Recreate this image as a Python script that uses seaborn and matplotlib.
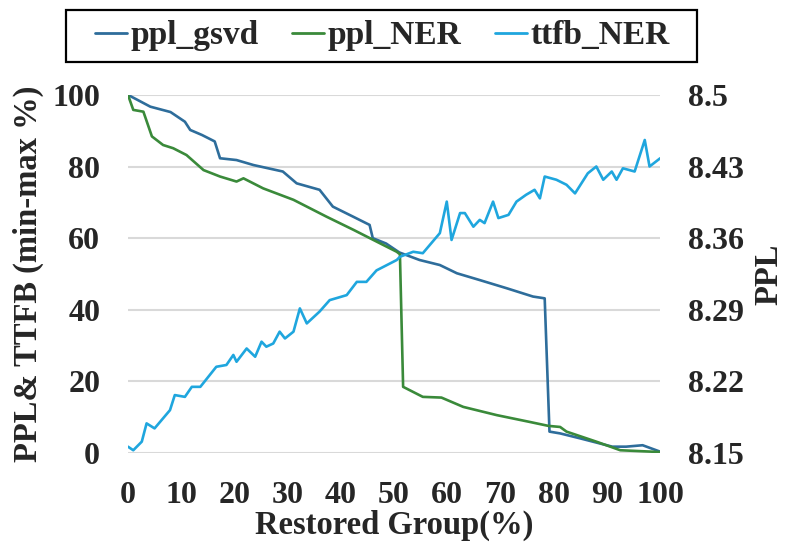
import matplotlib
matplotlib.use("Agg")
import matplotlib.pyplot as plt
import seaborn as sns
import pandas as pd
from matplotlib.lines import Line2D
from matplotlib.patches import Rectangle

# ---- data ----
gsvd_x = [0, 4.2, 8, 10.7, 11.7, 13.9, 16.3, 17.3, 20.4, 23.6, 29.1, 31.7, 36, 38.5,
          42.3, 45.4, 46, 48.5, 51, 54.8, 58.6, 61.8, 66.1, 71.2, 76.1, 78.3, 79.2,
          81.2, 85, 91, 93.6, 96.7, 100]
gsvd_y = [100, 96.7, 95.2, 92.5, 90.2, 88.8, 87, 82.3, 81.8, 80.4, 78.6, 75.3, 73.5, 68.8,
          66, 63.7, 60, 58.5, 56, 53.9, 52.5, 50.2, 48.3, 46, 43.7, 43.2, 6,
          5.5, 4.1, 1.8, 1.8, 2.2, 0.4]

ner_x = [0, 1, 2.9, 4.5, 6.6, 8.5, 11, 14.2, 17.3, 20.4, 21.7, 25.4, 31.1, 37.3, 42.4,
         47.3, 50.5, 51.1, 51.7, 55.4, 58.9, 63, 69.3, 75.5, 79, 81.2, 82.4, 88, 92.5, 100]
ner_y = [100, 95.8, 95.3, 88.4, 86, 85.1, 83.2, 79, 77.2, 75.8, 76.7, 73.9, 70.7, 66, 62.3,
         58.6, 56.2, 55.5, 18.5, 15.7, 15.5, 12.9, 10.6, 8.7, 7.6, 7.3, 6, 3.2, 0.8, 0.3]

ttfb_x = [0, 1, 2.6, 3.5, 5, 7.9, 8.8, 10.7, 12, 13.6, 16.6, 18.5, 19.8, 20.4, 22.3, 23.9,
          25.1, 26, 27.3, 28.5, 29.5, 31.1, 32.3, 33.6, 36, 37.9, 41.1, 43, 44.8, 46.7,
          50.5, 51.1, 53.6, 55.4, 58.6, 59.9, 60.8, 62.4, 63.3, 64.9, 66.1, 67, 68.6, 69.6,
          71.5, 73, 74.8, 76.4, 77.4, 78.3, 80.5, 82.4, 84, 86.4, 88, 89.3, 90.9, 91.8,
          93, 95.2, 97.1, 98, 100]
ttfb_y = [1.8, 0.8, 3.2, 8.3, 6.9, 12, 16.2, 15.7, 18.5, 18.5, 24.1, 24.6, 27.4, 25.5, 29.2, 26.9,
          31.1, 29.7, 30.6, 33.9, 32, 33.9, 40.4, 36.2, 39.5, 42.7, 44.1, 47.8, 47.8, 51,
          53.9, 54.8, 56.2, 55.8, 61.4, 70.2, 59.5, 67, 67, 63.2, 65.1, 64.2, 70.2, 65.6,
          66.5, 70.2, 72.1, 73.5, 71.1, 77.2, 76.3, 74.9, 72.5, 78.1, 80, 76.3, 78.6, 76.3,
          79.5, 78.6, 87.4, 80, 82.3]

x_ticks = [0, 10, 20, 30, 40, 50, 60, 70, 80, 90, 100]
left_ticks = [0, 20, 40, 60, 80, 100]
right_ticks = [8.15, 8.22, 8.29, 8.36, 8.43, 8.5]
right_labels = ["8.15", "8.22", "8.29", "8.36", "8.43", "8.5"]

series_names = ["ppl_gsvd", "ppl_NER", "ttfb_NER"]
colors = ["#2E6D9B", "#3A8A3A", "#1FA6DE"]

sns.set_theme(style="white")
plt.rcParams["font.family"] = ["Liberation Serif", "DejaVu Serif"]
plt.rcParams["font.weight"] = "bold"

TICK_FS = 23
LABEL_FS = 23.5

fig = plt.figure(figsize=(7.85, 5.42), dpi=100)
ax = fig.add_axes([0.163, 0.164, 0.678, 0.661])

frames = [
    pd.DataFrame({"x": gsvd_x, "y": gsvd_y, "s": series_names[0]}),
    pd.DataFrame({"x": ner_x, "y": ner_y, "s": series_names[1]}),
    pd.DataFrame({"x": ttfb_x, "y": ttfb_y, "s": series_names[2]}),
]
for df, c in zip(frames, colors):
    sns.lineplot(data=df, x="x", y="y", ax=ax, color=c, linewidth=1.9,
                 estimator=None, sort=False, legend=False, zorder=3)

ax.set_xlim(0, 100)
ax.set_ylim(0, 100)
ax.set_xticks(x_ticks)
ax.set_yticks(left_ticks)
ax.set_xticklabels([str(t) for t in x_ticks], fontsize=TICK_FS, fontweight="bold")
ax.set_yticklabels([str(t) for t in left_ticks], fontsize=TICK_FS, fontweight="bold")
ax.tick_params(axis="x", length=0, pad=20)
ax.tick_params(axis="y", length=0, pad=20)
ax.grid(axis="y", color="#D9D9D9", linewidth=1.5, zorder=0)
ax.grid(axis="x", visible=False)
for sp in ax.spines.values():
    sp.set_visible(False)
ax.set_xlabel("Restored Group(%)", fontsize=LABEL_FS, fontweight="bold", labelpad=0)
ax.set_ylabel("PPL& TTFB (min-max %)", fontsize=LABEL_FS, fontweight="bold")
ax.yaxis.set_label_coords(-0.157, 0.5)
ax.set_axisbelow(True)

ax2 = ax.twinx()
ax2.set_ylim(8.15, 8.5)
ax2.set_yticks(right_ticks)
ax2.set_yticklabels(right_labels, fontsize=TICK_FS, fontweight="bold")
ax2.tick_params(axis="y", length=0, pad=20)
for sp in ax2.spines.values():
    sp.set_visible(False)
ax2.set_ylabel("PPL", fontsize=LABEL_FS, fontweight="bold", labelpad=7)
ax2.grid(False)

# legend frame (figure coordinates) and legend entries
fig.patches.append(Rectangle((66 / 785, 1 - 62 / 542), 631 / 785, 52 / 542,
                             transform=fig.transFigure, fill=False,
                             edgecolor="black", linewidth=1.6, zorder=5))
handles = [Line2D([0], [0], color=c, linewidth=2.0) for c in colors]
leg = fig.legend(handles, series_names, loc="center", bbox_to_anchor=(0.487, 0.934),
                 ncol=3, frameon=False,
                 prop={"family": "Liberation Serif", "weight": "bold", "size": 24},
                 handlelength=0.95, handletextpad=0.12, columnspacing=1.0,
                 borderpad=0.1, borderaxespad=0)

fig.savefig("out.png", dpi=100)
